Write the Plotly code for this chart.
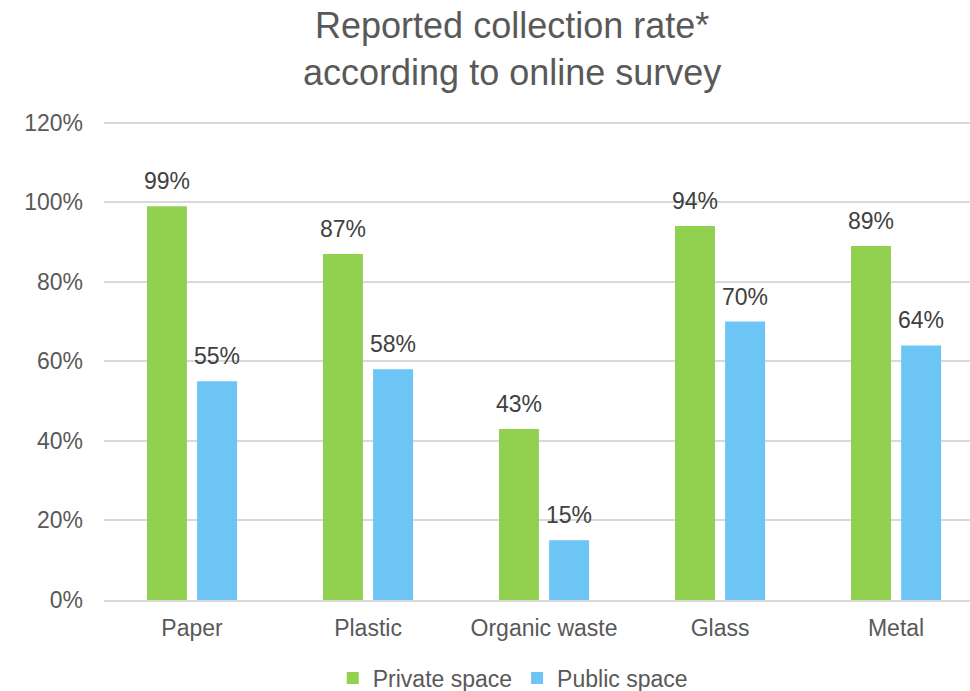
import plotly.graph_objects as go

categories = ["Paper", "Plastic", "Organic waste", "Glass", "Metal"]
private_space = [99, 87, 43, 94, 89]
public_space = [55, 58, 15, 70, 64]
tick_vals = [0, 20, 40, 60, 80, 100, 120]
tick_text = ["0%", "20%", "40%", "60%", "80%", "100%", "120%"]

FONT = "Liberation Sans, Arial, sans-serif"
GREY = "#595959"
LABEL = "#404040"

fig = go.Figure()
fig.add_trace(go.Bar(
    x=categories, y=private_space, name="Private space",
    marker=dict(color="#92D050", line=dict(width=0)),
    width=0.227, offset=-0.256,
))
fig.add_trace(go.Bar(
    x=categories, y=public_space, name="Public space",
    marker=dict(color="#6DC5F6", line=dict(width=0)),
    width=0.227, offset=0.029,
))

for vals, shift in ((private_space, -25), (public_space, 25)):
    for c, v in zip(categories, vals):
        fig.add_annotation(x=c, y=v, text=f"{v}%", showarrow=False,
                           xanchor="center", yanchor="bottom", xshift=shift, yshift=10,
                           font=dict(size=23, color=LABEL, family=FONT))

fig.update_layout(
    width=970, height=691,
    margin=dict(l=104, r=0, t=121, b=91, autoexpand=False),
    paper_bgcolor="white", plot_bgcolor="white",
    font=dict(family=FONT, color=GREY, size=23),
    title=dict(text="Reported collection rate*<br>according to online survey",
               x=0.528, xanchor="center", y=0.945, yanchor="top",
               font=dict(size=36, color=GREY, family=FONT)),
    barmode="group",
    showlegend=True,
    legend=dict(orientation="h", x=0.472, xanchor="center", y=-0.163, yanchor="middle",
                font=dict(size=23, color=GREY, family=FONT),
                traceorder="normal"),
    xaxis=dict(range=[-0.5, 4.42], showgrid=False, showline=True, linecolor="#D9D9D9",
               linewidth=2, ticks="", ticklabelstandoff=6, tickfont=dict(size=23, color=GREY)),
    yaxis=dict(range=[0, 120.4], tickvals=tick_vals, ticktext=tick_text,
               showgrid=True, gridcolor="#D9D9D9", gridwidth=2, zeroline=False,
               showline=False, ticks="", ticklabelstandoff=20,
               tickfont=dict(size=23, color=GREY)),
)

fig.write_html("out.html")
